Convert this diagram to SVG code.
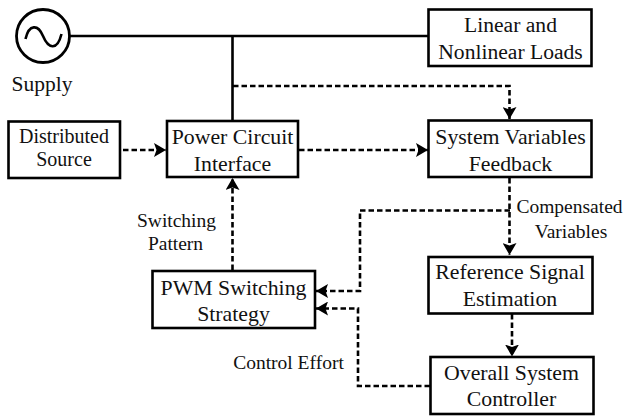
<svg xmlns="http://www.w3.org/2000/svg" width="623" height="417" viewBox="0 0 623 417">
<style>
text{font-family:"Liberation Serif","Times New Roman",serif;fill:#111;text-anchor:middle}
.b{fill:#fff;stroke:#000;stroke-width:2.6}
.t{font-size:21.8px}
.m{font-size:20px}
.s{font-size:19.5px}
.l{fill:none;stroke:#000;stroke-width:2.6}
.d{fill:none;stroke:#000;stroke-width:2.6;stroke-dasharray:5.500 3}
</style>
<defs><marker id="a" markerUnits="userSpaceOnUse" markerWidth="12" markerHeight="14" refX="12" refY="7" orient="auto"><path d="M0 0L12 7L0 14L2.500 7Z" fill="#000"/></marker></defs>
<g id="connectors">
<path class="l" d="M70 36H428"/>
<path class="l" d="M232.500 36V121"/>
<path class="d" d="M233 86H509.500V119" marker-end="url(#a)"/>
<path class="d" d="M123 150H166" marker-end="url(#a)"/>
<path class="d" d="M299 150H428" marker-end="url(#a)"/>
<path class="d" d="M232.500 270V178" marker-end="url(#a)"/>
<path class="d" d="M509.500 178V255" marker-end="url(#a)"/>
<path class="d" d="M510 210.500H360V291H316" marker-end="url(#a)"/>
<path class="d" d="M512 314V356.500" marker-end="url(#a)"/>
<path class="d" d="M430 386H358V308.500H316" marker-end="url(#a)"/>
</g>
<g id="supply"><circle cx="43" cy="36" r="26.500" fill="#fff" stroke="#000" stroke-width="2.800"/><path class="l" d="M25.500 39C29 24 38 24 43 36S57 52 61.500 34"/><text class="t" style="font-size:21.500px" x="42" y="91">Supply</text></g>
<g id="loads"><rect class="b" x="428.500" y="9.500" width="163" height="56.500"/><text class="t" style="font-size:21.600px" x="510.500" y="32">Linear and</text><text class="t" style="font-size:21.600px" x="510.500" y="59">Nonlinear Loads</text></g>
<g id="source"><rect class="b" x="8.500" y="121.500" width="111.500" height="56.500"/><text class="m" x="64" y="143">Distributed</text><text class="m" x="64" y="166">Source</text></g>
<g id="power"><rect class="b" x="167" y="121" width="131" height="56"/><text class="t" x="232.500" y="144">Power Circuit</text><text class="t" x="232.500" y="171">Interface</text></g>
<g id="feedback"><rect class="b" x="428.500" y="120.500" width="163" height="56.500"/><text class="t" x="510.500" y="144">System Variables</text><text class="t" x="510.500" y="171">Feedback</text></g>
<g id="pwm"><rect class="b" x="152.500" y="271" width="162.500" height="57"/><text class="t" x="233.500" y="295">PWM Switching</text><text class="t" x="233.500" y="321">Strategy</text></g>
<g id="reference"><rect class="b" x="428.500" y="257" width="164" height="56.500"/><text class="t" x="510" y="279">Reference Signal</text><text class="t" x="510" y="306">Estimation</text></g>
<g id="controller"><rect class="b" x="430.500" y="357" width="163" height="57"/><text class="t" x="511.500" y="380">Overall System</text><text class="t" x="511.500" y="406">Controller</text></g>
<g id="labels">
<text class="s" x="176.500" y="227">Switching</text>
<text class="s" x="175.500" y="250">Pattern</text>
<text class="s" x="288.500" y="369">Control Effort</text>
<text class="s" x="569.500" y="213">Compensated</text>
<text class="s" x="571" y="238">Variables</text>
</g>
</svg>
